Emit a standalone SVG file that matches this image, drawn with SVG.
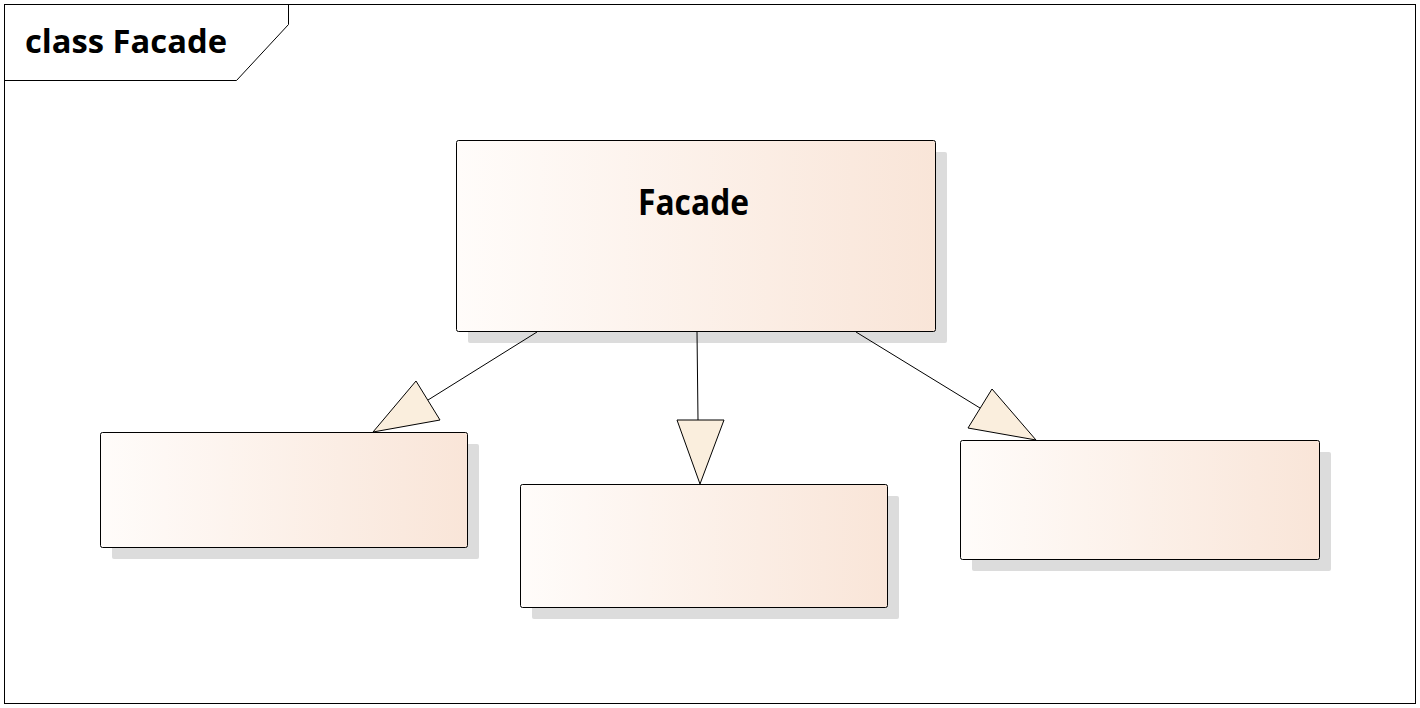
<svg xmlns="http://www.w3.org/2000/svg" width="1420" height="708" viewBox="0 0 1420 708">
<defs>
<linearGradient id="g" x1="0" y1="0" x2="1" y2="0">
<stop offset="0" stop-color="#FFFCFA"/>
<stop offset="1" stop-color="#F9E5D8"/>
</linearGradient>
<style>
.box{fill:url(#g);stroke:#000;stroke-width:1}
.sh{fill:#DCDCDC}
.ln{stroke:#000;stroke-width:1;fill:none}
.tri{fill:#FAEEDD;stroke:#000;stroke-width:1;stroke-linejoin:miter}
.t{font-family:"Open Sans","Liberation Sans",sans-serif;font-weight:bold;fill:#000}
</style>
</defs>
<rect width="1420" height="708" fill="#fff"/>
<g id="frame">
<rect x="4.5" y="4.5" width="1411" height="699" fill="none" stroke="#000"/>
<path d="M4.5 80.5 H236.5 L288.5 24.5 V4.5" fill="none" stroke="#000"/>
<text class="t" x="25" y="53" font-size="32" textLength="202" lengthAdjust="spacingAndGlyphs">class Facade</text>
</g>
<g id="facade">
<rect class="sh" x="468" y="152" width="479" height="191" rx="2"/>
<rect class="box" x="456.5" y="140.5" width="479" height="191" rx="2"/>
<text class="t" x="638" y="215" font-size="36" textLength="111" lengthAdjust="spacingAndGlyphs">Facade</text>
</g>
<g id="sub1">
<rect class="sh" x="112" y="444" width="367" height="115" rx="2"/>
<rect class="box" x="100.5" y="432.5" width="367" height="115" rx="2"/>
</g>
<g id="sub2">
<rect class="sh" x="532" y="496" width="367" height="123" rx="2"/>
<rect class="box" x="520.5" y="484.5" width="367" height="123" rx="2"/>
</g>
<g id="sub3">
<rect class="sh" x="972" y="452" width="359" height="119" rx="2"/>
<rect class="box" x="960.5" y="440.5" width="359" height="119" rx="2"/>
</g>
<g id="connectors">
<line class="ln" x1="537" y1="332" x2="428" y2="400"/>
<polygon class="tri" points="373,432 416,381 440,420"/>
<line class="ln" x1="697" y1="332" x2="698" y2="420"/>
<polygon class="tri" points="677,420 724,420 700,484"/>
<line class="ln" x1="856" y1="332" x2="980" y2="408"/>
<polygon class="tri" points="1036,440 992,389 968,428"/>
</g>
</svg>
